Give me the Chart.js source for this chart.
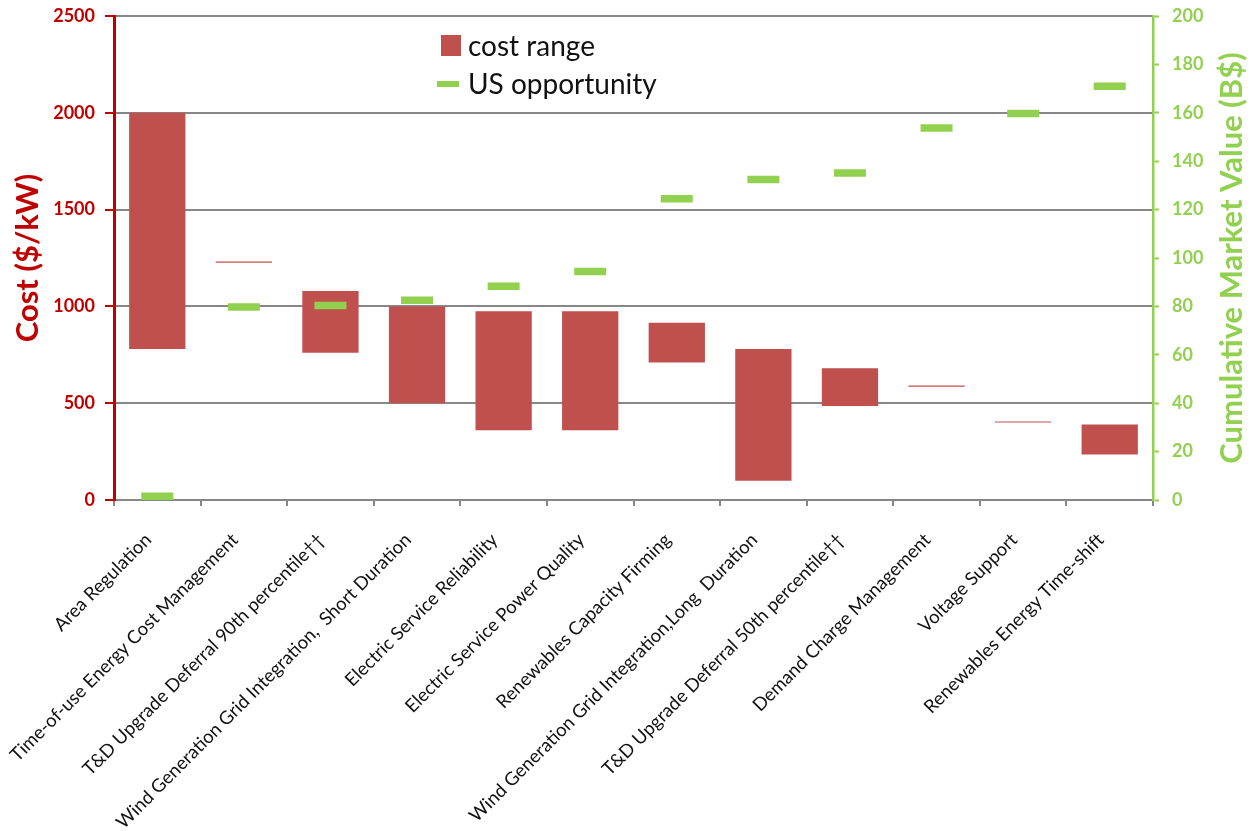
<!DOCTYPE html>
<html>
<head>
<meta charset="utf-8">
<title>Energy storage applications: cost range and US opportunity</title>
<script src="https://cdn.jsdelivr.net/npm/chart.js@4.4.1/dist/chart.umd.min.js"></script>
<style>
  html, body { margin: 0; padding: 0; background: #ffffff; }
  #wrap { width: 1256px; height: 831px; position: relative; }
</style>
</head>
<body>
<div id="wrap"><canvas id="chart"></canvas></div>
<script>
// Storage applications along the category axis
const categories = [
  'Area Regulation',
  'Time-of-use Energy Cost Management',
  'T&D Upgrade Deferral 90th percentile\u2020\u2020',
  'Wind Generation Grid Integration,  Short Duration',
  'Electric Service Reliability',
  'Electric Service Power Quality',
  'Renewables Capacity Firming',
  'Wind Generation Grid Integration,Long  Duration',
  'T&D Upgrade Deferral 50th percentile\u2020\u2020',
  'Demand Charge Management',
  'Voltage Support',
  'Renewables Energy Time-shift'
];

// Cost range, $/kW (low and high end of each floating bar)
const costLow  = [780, 1225, 760, 500, 360, 360, 710, 100, 485, 585, 400, 235];
const costHigh = [2000, 1232, 1080, 1000, 975, 975, 915, 780, 680, 591, 406, 390];

// Cumulative US market value, B$
const usOpportunity = [1.5, 79.8, 80.4, 82.5, 88.3, 94.4, 124.5, 132.4, 135.1, 153.7, 159.7, 171];

// Axis tick values
const costTicks  = [0, 500, 1000, 1500, 2000, 2500];
const valueTicks = [0, 20, 40, 60, 80, 100, 120, 140, 160, 180, 200];

const BAR_RED  = '#C0504D';
const AXIS_RED = '#C00000';
const GREEN    = '#92D050';
const GRID     = '#878787';
const FONT     = 'Lato, "Open Sans", "DejaVu Sans", sans-serif';

const costRanges = categories.map((_, i) => [costLow[i], costHigh[i]]);

// Legend box inside the plot and the right-hand axis title (reads bottom to top)
const legendAndRightTitle = {
  id: 'legendAndRightTitle',
  afterDraw(chart) {
    const ctx = chart.ctx;
    const ds = chart.data.datasets;
    ctx.save();

    ctx.fillStyle = ds[0].backgroundColor;
    ctx.fillRect(441, 35, 20, 21);

    ctx.strokeStyle = ds[1].borderColor;
    ctx.lineWidth = 6;
    ctx.lineCap = 'butt';
    ctx.beginPath();
    ctx.moveTo(437, 84);
    ctx.lineTo(459, 84);
    ctx.stroke();

    ctx.fillStyle = '#111111';
    ctx.font = '28px ' + FONT;
    ctx.textAlign = 'left';
    ctx.textBaseline = 'alphabetic';
    ctx.fillText(ds[0].label, 468, 56);
    ctx.fillText(ds[1].label, 468, 94);

    const y2 = chart.scales.y2;
    ctx.translate(1232, (y2.top + y2.bottom) / 2);
    ctx.rotate(-Math.PI / 2);
    ctx.font = 'bold 31px ' + FONT;
    ctx.fillStyle = GREEN;
    ctx.textAlign = 'center';
    ctx.textBaseline = 'middle';
    ctx.fillText('Cumulative Market Value (B$)', 0, 0);

    ctx.restore();
  }
};

// Vertical axes: fixed width, no extra top/bottom padding around the plot
function fixVerticalAxis(width) {
  return function (scale) {
    scale.width = width;
    scale.paddingTop = 0;
    scale.paddingBottom = 0;
  };
}

new Chart(document.getElementById('chart'), {
  type: 'bar',
  data: {
    labels: categories,
    datasets: [
      {
        type: 'bar',
        label: 'cost range',
        data: costRanges,
        backgroundColor: BAR_RED,
        borderWidth: 0,
        yAxisID: 'y',
        order: 2,
        grouped: false,
        barPercentage: 0.65,
        categoryPercentage: 1
      },
      {
        type: 'line',
        label: 'US opportunity',
        data: usOpportunity,
        yAxisID: 'y2',
        order: 1,
        showLine: false,
        pointStyle: 'line',
        pointRadius: 16,
        pointHoverRadius: 16,
        pointBorderWidth: 7.5,
        pointHoverBorderWidth: 7.5,
        borderColor: GREEN,
        pointBorderColor: GREEN,
        backgroundColor: GREEN,
        clip: false
      }
    ]
  },
  options: {
    responsive: true,
    maintainAspectRatio: false,
    animation: false,
    devicePixelRatio: 1,
    layout: { autoPadding: false, padding: { top: 16, left: 0, right: 0, bottom: 0 } },
    plugins: {
      legend: { display: false },
      tooltip: { enabled: false }
    },
    scales: {
      x: {
        offset: true,
        grid: {
          offset: true,
          drawOnChartArea: false,
          color: GRID,
          lineWidth: 2,
          tickLength: 6
        },
        border: { color: GRID, width: 2 },
        ticks: {
          autoSkip: false,
          maxRotation: 45,
          minRotation: 45,
          padding: 23,
          labelOffset: -9,
          color: '#111111',
          font: { family: FONT, size: 18.5 }
        },
        afterFit(scale) { scale.height = 331; }
      },
      y: {
        position: 'left',
        min: 0,
        max: 2500,
        afterBuildTicks(scale) { scale.ticks = costTicks.map(v => ({ value: v })); },
        grid: {
          color: GRID,
          lineWidth: 2,
          tickColor: AXIS_RED,
          tickLength: 9,
          tickWidth: 2
        },
        border: { color: AXIS_RED, width: 3 },
        ticks: {
          color: AXIS_RED,
          padding: 10,
          font: { family: FONT, size: 18, weight: 'bold' },
          callback: v => String(v)
        },
        title: {
          display: true,
          text: 'Cost ($/kW)',
          color: AXIS_RED,
          font: { family: FONT, size: 31, weight: 'bold' },
          padding: { top: 9, bottom: 0 }
        },
        afterFit: fixVerticalAxis(114)
      },
      y2: {
        position: 'right',
        min: 0,
        max: 200,
        afterBuildTicks(scale) { scale.ticks = valueTicks.map(v => ({ value: v })); },
        grid: {
          drawOnChartArea: false,
          tickColor: GREEN,
          tickLength: 6,
          tickWidth: 2
        },
        border: { color: GREEN, width: 2.5 },
        ticks: {
          color: GREEN,
          padding: 13,
          font: { family: FONT, size: 18, weight: 'bold' },
          callback: v => String(v)
        },
        afterFit: fixVerticalAxis(103)
      }
    }
  },
  plugins: [legendAndRightTitle]
});
</script>
</body>
</html>
